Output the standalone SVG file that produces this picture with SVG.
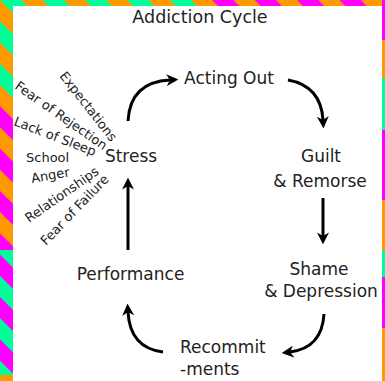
<svg xmlns="http://www.w3.org/2000/svg" width="385" height="381" viewBox="0 0 385 381">
<style>
text{font-family:"DejaVu Sans",Verdana,sans-serif;fill:#222}
.lbl{font-size:17px;text-anchor:middle}
.title{font-size:17.5px;text-anchor:middle}
.st{font-size:13px}
.arr{fill:none;stroke:#000;stroke-width:3;stroke-linecap:butt}
</style>
<defs>
<pattern id="og" width="30" height="30" patternUnits="userSpaceOnUse" patternTransform="rotate(-45)"><rect width="30" height="30" fill="#FF9900"/><rect width="15" height="30" fill="#00FF99"/></pattern>
<pattern id="om" width="30" height="30" patternUnits="userSpaceOnUse" patternTransform="rotate(-45)"><rect width="30" height="30" fill="#FF9900"/><rect width="15" height="30" fill="#FF00FF"/></pattern>
<pattern id="mg" width="30" height="30" patternUnits="userSpaceOnUse" patternTransform="rotate(-45)"><rect width="30" height="30" fill="#FF00FF"/><rect width="15" height="30" fill="#00FF99"/></pattern>
<marker id="ah" viewBox="0 0 10 10" markerUnits="userSpaceOnUse" markerWidth="12" markerHeight="12" refX="3" refY="5" orient="auto"><path d="M0,0 L10,5 L0,10 L3,5 z" fill="#000"/></marker>
</defs>
<rect width="385" height="381" fill="#fff"/>
<g id="border">
<rect x="0" y="0" width="13" height="105" fill="url(#og)"/>
<rect x="0" y="105" width="13" height="145" fill="url(#om)"/>
<rect x="0" y="250" width="13" height="125" fill="url(#mg)"/>
<rect x="0" y="375" width="13" height="6" fill="#FF9900"/>
<rect x="0" y="0" width="200" height="6" fill="url(#og)"/>
<rect x="200" y="0" width="185" height="6" fill="url(#om)"/>
<rect x="382" y="0" width="3" height="40" fill="#FF00FF"/>
<rect x="382" y="40" width="3" height="38" fill="#FF9900"/>
<rect x="382" y="78" width="3" height="52" fill="#00FF99"/>
<rect x="382" y="130" width="3" height="70" fill="#FF00FF"/>
<rect x="382" y="200" width="3" height="50" fill="#FF9900"/>
<rect x="382" y="250" width="3" height="27" fill="#00FF99"/>
<rect x="382" y="277" width="3" height="51" fill="#FF00FF"/>
<rect x="382" y="328" width="3" height="53" fill="#FF9900"/>
</g>
<text class="title" x="200" y="23">Addiction Cycle</text>
<g id="connectors">
<path class="arr" d="M128,121 Q130,82 170,80" marker-end="url(#ah)"/>
<path class="arr" d="M288,80 Q321,86 323,120" marker-end="url(#ah)"/>
<path class="arr" d="M323,198 L323,236" marker-end="url(#ah)"/>
<path class="arr" d="M324,314 Q322,348 290,352" marker-end="url(#ah)"/>
<path class="arr" d="M163,352 Q130,348 128,312" marker-end="url(#ah)"/>
<path class="arr" d="M128,250 L128,186" marker-end="url(#ah)"/>
</g>
<g id="acting-out"><text class="lbl" x="229" y="84">Acting Out</text></g>
<g id="guilt"><text class="lbl" x="321" y="162">Guilt</text><text class="lbl" x="320" y="187">&amp; Remorse</text></g>
<g id="shame"><text class="lbl" x="319" y="275">Shame</text><text class="lbl" x="321" y="297">&amp; Depression</text></g>
<g id="recommitments"><text class="lbl" x="180" y="353" style="text-anchor:start">Recommit</text><text class="lbl" x="180" y="375" style="text-anchor:start">-ments</text></g>
<g id="performance"><text class="lbl" x="130.5" y="280">Performance</text></g>
<g id="stress"><text class="lbl" x="131" y="162">Stress</text></g>
<g id="stressors">
<text class="st" transform="translate(59,76) rotate(52)">Expectations</text>
<text class="st" transform="translate(14,88) rotate(35)">Fear of Rejection</text>
<text class="st" transform="translate(13,125) rotate(21)">Lack of Sleep</text>
<text class="st" x="26" y="162">School</text>
<text class="st" transform="translate(32,183) rotate(-10)">Anger</text>
<text class="st" transform="translate(29,223) rotate(-35)">Relationships</text>
<text class="st" transform="translate(46,246) rotate(-46)">Fear of Failure</text>
</g>
</svg>
